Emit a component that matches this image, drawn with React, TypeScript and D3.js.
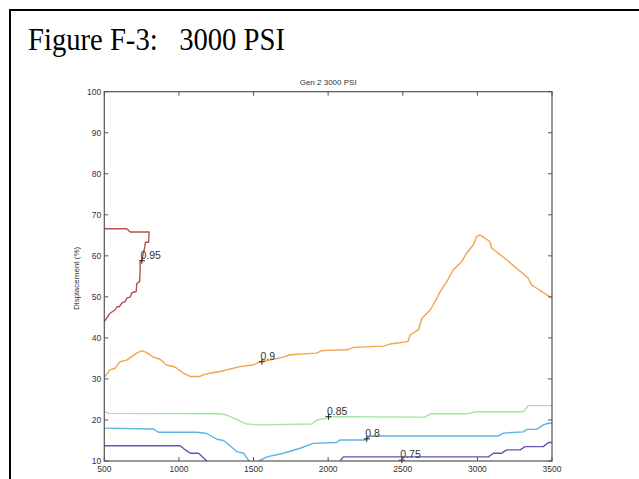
import React from "react";
import * as d3 from "d3";

type P = [number, number];

const xTicks = [500, 1000, 1500, 2000, 2500, 3000, 3500];
const yTicks = [10, 20, 30, 40, 50, 60, 70, 80, 90, 100];

const level095: P[] = [
  [500, 44], [538, 46], [572, 46.8], [585, 47.6], [600, 47.6], [618, 48.5], [640, 48.9],
  [652, 49.7], [674, 50], [685, 51], [714, 51.3], [718, 53.3], [737, 53.7], [740, 56.6],
  [740, 58.3], [752, 59], [770, 62], [775, 63.3], [797, 63.3], [800, 65.8], [674, 65.8],
  [650, 66.6], [500, 66.6],
];
const level090: P[] = [
  [500, 30.4], [538, 32.2], [572, 32.6], [605, 34.2], [650, 34.6], [717, 36.3], [751, 36.9],
  [784, 36.4], [829, 35.3], [873, 34.8], [918, 33.4], [974, 32.9], [1030, 31.4], [1074, 30.6],
  [1141, 30.6], [1163, 31], [1208, 31.4], [1275, 31.8], [1320, 32.2], [1365, 32.6], [1409, 33],
  [1499, 33.4], [1543, 34.2], [1610, 34.6], [1700, 35.3], [1745, 35.9], [1923, 36.3],
  [1957, 36.9], [2125, 37.1], [2170, 37.7], [2371, 38], [2415, 38.5], [2534, 39.1],
  [2550, 40.7], [2606, 42], [2628, 44.8], [2684, 46.8], [2717, 48.9], [2751, 51.3],
  [2795, 53.7], [2839, 56.6], [2895, 58.6], [2929, 60.7], [2973, 62.7], [2995, 64.7],
  [3017, 65.1], [3084, 63.5], [3095, 61.9], [3184, 59.4], [3340, 54.6], [3363, 52.9],
  [3500, 49.7],
];
const level085: P[] = [
  [500, 22], [530, 21.6], [1266, 21.5], [1321, 21.2], [1455, 19], [1543, 18.8], [1890, 19],
  [1923, 20], [1990, 20.4], [2035, 20.8], [2650, 20.7], [2684, 21.5], [2929, 21.5],
  [2995, 22], [3308, 22], [3341, 23.5], [3500, 23.5],
];
const level080a: P[] = [
  [500, 18], [829, 17.8], [863, 17], [1121, 17], [1187, 16.7], [1254, 15.3], [1299, 15],
  [1388, 12.3], [1433, 11.9], [1466, 10.2], [1476, 10],
];
const level080b: P[] = [
  [1535, 10], [1590, 11], [1701, 11.9], [1812, 13.1], [1901, 14.3], [2057, 14.5],
  [2079, 15.1], [2247, 15.1], [2280, 16.1], [3141, 16.1], [3174, 16.8], [3308, 17.1],
  [3330, 17.7], [3397, 17.7], [3442, 18.8], [3476, 19.2], [3500, 19.2],
];
const level075a: P[] = [
  [500, 13.7], [1009, 13.7], [1043, 12.7], [1076, 11.9], [1132, 11.9], [1187, 10],
];
const level075b: P[] = [
  [2080, 10], [2102, 11], [3074, 11], [3107, 11.9], [3163, 11.9], [3196, 12.7], [3286, 12.7],
  [3320, 13.5], [3442, 13.5], [3476, 14.5], [3500, 14.5],
];

const contourLevels = [
  { name: "0.95", color: "#b5524f", paths: [level095] },
  { name: "0.9", color: "#f2a54c", paths: [level090] },
  { name: "0.85", color: "#a2e6a0", paths: [level085] },
  { name: "0.8", color: "#5db3e2", paths: [level080a, level080b] },
  { name: "0.75", color: "#5b58b4", paths: [level075a, level075b] },
];

const labelNames = ["0.95", "0.9", "0.85", "0.8", "0.75"];
const labelPoints: P[] = [[752, 58.8], [1556, 34.2], [2002, 20.8], [2259, 15.4], [2494, 10.2]];

const W = 639;
const H = 479;
const left = 104.3;
const right = 552;
const top = 91.7;
const bottom = 461;

export default function App() {
  const x = d3.scaleLinear().domain([500, 3500]).range([left, right]);
  const y = d3.scaleLinear().domain([10, 100]).range([bottom, top]);
  const line = d3
    .line<P>()
    .x((d) => x(d[0]))
    .y((d) => y(d[1]));
  const axisColor = "#555";
  const tickLen = 4;
  const font = "'Liberation Sans', Arial, sans-serif";

  return (
    <svg
      width={W}
      height={H}
      style={{ position: "absolute", left: 0, top: 0, background: "#fff" }}
    >
      <rect x={0} y={0} width={W} height={H} fill="#fff" />
      <rect x={10} y={10} width={700} height={600} fill="none" stroke="#000" strokeWidth={2} />
      <text
        x={28}
        y={50}
        fontFamily="'Liberation Serif', 'Times New Roman', serif"
        fontSize={31}
        fill="#000"
        textLength={257}
        lengthAdjust="spacingAndGlyphs"
        xmlSpace="preserve"
        style={{ whiteSpace: "pre" }}
      >
        {"Figure F-3:   3000 PSI"}
      </text>

      <text
        x={(left + right) / 2}
        y={84.5}
        textAnchor="middle"
        fontFamily={font}
        fontSize={8}
        fill="#333"
      >
        Gen 2 3000 PSI
      </text>

      <text
        transform={`translate(78.5, ${(top + bottom) / 2 + 2}) rotate(-90)`}
        textAnchor="middle"
        fontFamily={font}
        fontSize={8}
        fill="#333"
      >
        Displacement (%)
      </text>

      {contourLevels.map((lv) =>
        lv.paths.map((p, i) => (
          <path
            key={lv.name + i}
            d={line(p) || ""}
            fill="none"
            stroke={lv.color}
            strokeWidth={1.4}
            strokeLinejoin="round"
          />
        ))
      )}

      {labelPoints.map((pt, i) => {
        const px = x(pt[0]);
        const py = y(pt[1]);
        return (
          <g key={labelNames[i]}>
            <path
              d={`M${px - 3},${py}H${px + 3}M${px},${py - 3}V${py + 3}`}
              stroke="#222"
              strokeWidth={1}
            />
            <text
              x={px - 1.5}
              y={py - 2}
              fontFamily={font}
              fontSize={10.5}
              fill="#333"
            >
              {labelNames[i]}
            </text>
          </g>
        );
      })}

      <rect
        x={left}
        y={top}
        width={right - left}
        height={bottom - top}
        fill="none"
        stroke={axisColor}
        strokeWidth={1.2}
      />

      {xTicks.map((t) => (
        <g key={"x" + t}>
          <line x1={x(t)} x2={x(t)} y1={bottom} y2={bottom - tickLen} stroke={axisColor} />
          <line x1={x(t)} x2={x(t)} y1={top} y2={top + tickLen} stroke={axisColor} />
          <text
            x={x(t)}
            y={bottom + 11}
            textAnchor="middle"
            fontFamily={font}
            fontSize={8.5}
            fill="#333"
          >
            {t}
          </text>
        </g>
      ))}
      {yTicks.map((t) => (
        <g key={"y" + t}>
          <line x1={left} x2={left + tickLen} y1={y(t)} y2={y(t)} stroke={axisColor} />
          <line x1={right} x2={right - tickLen} y1={y(t)} y2={y(t)} stroke={axisColor} />
          <text
            x={left - 3}
            y={y(t) + 3}
            textAnchor="end"
            fontFamily={font}
            fontSize={8.5}
            fill="#333"
          >
            {t}
          </text>
        </g>
      ))}
    </svg>
  );
}
